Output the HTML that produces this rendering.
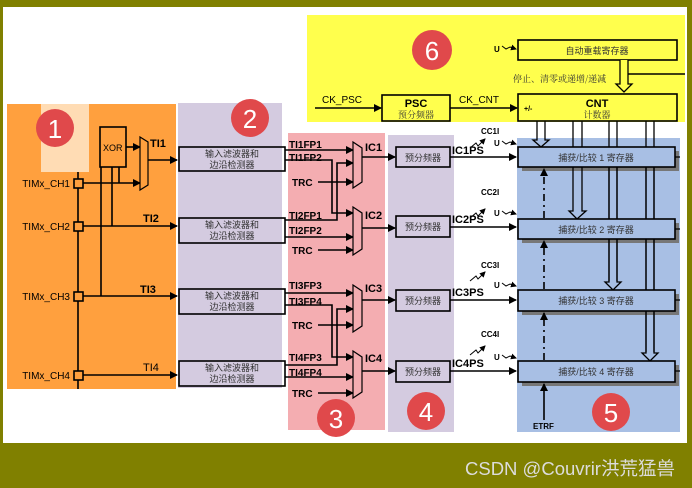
<!DOCTYPE html>
<html><head><meta charset="utf-8"><style>
html,body{margin:0;padding:0;background:#808000;}
svg{display:block}
text{font-family:"Liberation Sans","Noto Sans CJK SC",sans-serif;}
.cj{font-family:"Noto Serif CJK SC","Noto Sans CJK SC",serif;font-size:9px;fill:#333}
.b{font-weight:bold}
</style></head><body>
<svg width="692" height="488" viewBox="0 0 692 488" xmlns="http://www.w3.org/2000/svg">
<defs>
<marker id="a" markerWidth="8" markerHeight="8" refX="7" refY="4" orient="auto" markerUnits="userSpaceOnUse"><path d="M0,0L8,4L0,8z" fill="#000"/></marker>
<marker id="s" markerWidth="6" markerHeight="6" refX="5" refY="3" orient="auto" markerUnits="userSpaceOnUse"><path d="M0,0L6,3L0,6z" fill="#000"/></marker>
</defs>
<rect x="0" y="0" width="692" height="488" fill="#808000"/>
<rect x="3" y="7" width="684" height="436" fill="#fff"/>
<!-- regions -->
<rect x="307" y="15" width="378" height="107" fill="#ffff4d"/>
<rect x="7" y="104" width="169" height="285" fill="#ffa03e"/>
<rect x="41" y="104" width="48" height="68" fill="#ffdcb4"/>
<rect x="178" y="103" width="104" height="285" fill="#d4cbe0"/>
<rect x="288" y="133" width="97" height="297" fill="#f4adb1"/>
<rect x="388" y="135" width="66" height="297" fill="#d4cbe0"/>
<rect x="517" y="138" width="163" height="294" fill="#a8bfe4"/>

<g stroke="#000" fill="none" stroke-width="1.6">
<line x1="78" y1="172" x2="78" y2="389"/>
<rect x="100" y="127" width="26" height="40" fill="#ffa03e"/>
<line x1="101" y1="167" x2="101" y2="296"/>
<line x1="112" y1="167" x2="112" y2="226"/>
<line x1="119" y1="167" x2="119" y2="183"/>
<line x1="83" y1="183" x2="140" y2="183" marker-end="url(#a)"/>
<line x1="126" y1="147" x2="140" y2="147" marker-end="url(#a)"/>
<path d="M140,137L148,142L148,185L140,190Z" fill="#ffa03e" stroke-width="1.2"/>
<line x1="148" y1="160" x2="177" y2="160" marker-end="url(#a)"/>
<line x1="83" y1="226" x2="177" y2="226" marker-end="url(#a)"/>
<line x1="83" y1="296" x2="177" y2="296" marker-end="url(#a)"/>
<line x1="83" y1="375" x2="177" y2="375" marker-end="url(#a)"/>
<rect x="74" y="179" width="9" height="9" fill="#ffa03e"/>
<rect x="74" y="222" width="9" height="9" fill="#ffa03e"/>
<rect x="74" y="292" width="9" height="9" fill="#ffa03e"/>
<rect x="74" y="371" width="9" height="9" fill="#ffa03e"/>
<rect x="179" y="147" width="106" height="24"/>
<rect x="179" y="218" width="106" height="25"/>
<rect x="179" y="289" width="106" height="25"/>
<rect x="179" y="361" width="106" height="25"/>
<line x1="285" y1="150" x2="353" y2="150" marker-end="url(#a)"/>
<polyline points="285,160 332,160 332,213 353,213" marker-end="url(#a)"/>
<polyline points="285,220 337,220 337,163 353,163" marker-end="url(#a)"/>
<line x1="285" y1="237" x2="353" y2="237" marker-end="url(#a)"/>
<line x1="318" y1="182" x2="353" y2="182" marker-end="url(#a)"/>
<line x1="318" y1="250" x2="353" y2="250" marker-end="url(#a)"/>
<line x1="285" y1="293" x2="353" y2="293" marker-end="url(#a)"/>
<polyline points="285,305 332,305 332,357 353,357" marker-end="url(#a)"/>
<polyline points="285,365 337,365 337,309 353,309" marker-end="url(#a)"/>
<line x1="285" y1="377" x2="353" y2="377" marker-end="url(#a)"/>
<line x1="318" y1="325" x2="353" y2="325" marker-end="url(#a)"/>
<line x1="318" y1="393" x2="353" y2="393" marker-end="url(#a)"/>
<g stroke-width="1.2" fill="#f4adb1">
<path d="M353,142L362,148L362,182L353,188Z"/>
<path d="M353,207L362,213L362,249L353,255Z"/>
<path d="M353,285L362,291L362,326L353,332Z"/>
<path d="M353,351L362,357L362,392L353,398Z"/>
</g>
<line x1="362" y1="157" x2="395" y2="157" marker-end="url(#a)"/>
<line x1="362" y1="228" x2="395" y2="228" marker-end="url(#a)"/>
<line x1="362" y1="300" x2="395" y2="300" marker-end="url(#a)"/>
<line x1="362" y1="371" x2="395" y2="371" marker-end="url(#a)"/>
<rect x="396" y="147" width="54" height="20"/>
<rect x="396" y="216" width="54" height="21"/>
<rect x="396" y="290" width="54" height="21"/>
<rect x="396" y="361" width="54" height="21"/>
<line x1="450" y1="157" x2="516" y2="157" marker-end="url(#a)"/>
<line x1="450" y1="227" x2="516" y2="227" marker-end="url(#a)"/>
<line x1="450" y1="300" x2="516" y2="300" marker-end="url(#a)"/>
<line x1="450" y1="371" x2="516" y2="371" marker-end="url(#a)"/>
<line x1="315" y1="108" x2="381" y2="108" marker-end="url(#a)"/>
<rect x="382" y="95" width="68" height="26" fill="#ffff4d"/>
<line x1="450" y1="108" x2="517" y2="108" marker-end="url(#a)"/>
<rect x="518" y="94" width="159" height="27" fill="#ffff4d"/>
<rect x="518" y="40" width="159" height="20" fill="#ffff4d"/>
<line x1="628" y1="74" x2="685" y2="74"/>
</g>
<g stroke="#000" stroke-width="1.3" fill="none">
<path d="M620,60L620,84L616,84L624,92L632,84L628,84L628,60" fill="#ffff4d"/>
<path d="M537,121L537,140L533,140L541,147L549,140L545,140L545,121"/>
</g>
<g fill="#777">
<rect x="522" y="151" width="157" height="20"/><rect x="522" y="223" width="157" height="20"/>
<rect x="522" y="294" width="157" height="21"/><rect x="522" y="365" width="157" height="21"/>
</g>
<g stroke="#000" stroke-width="1.3" fill="none">
<path d="M573,121V211H569L577,219L586,211H582V121" />
<path d="M609,121V282H605L613,290L621,282H617V121"/>
<path d="M646,121V353H642L650,361L658,353H654V121"/>
</g>
<g stroke="#000" stroke-width="1.6" fill="#a8bfe4">
<rect x="518" y="147" width="157" height="20"/>
<rect x="518" y="219" width="157" height="20"/>
<rect x="518" y="290" width="157" height="21"/>
<rect x="518" y="361" width="157" height="21"/>
</g>
<g stroke="#000" stroke-width="1.3" fill="none">
<line x1="609" y1="167" x2="609" y2="219"/><line x1="617" y1="167" x2="617" y2="219"/>
<line x1="609" y1="239" x2="609" y2="281"/><line x1="617" y1="239" x2="617" y2="281"/>
<line x1="646" y1="167" x2="646" y2="219"/><line x1="654" y1="167" x2="654" y2="219"/>
<line x1="646" y1="239" x2="646" y2="290"/><line x1="654" y1="239" x2="654" y2="290"/>
<line x1="646" y1="311" x2="646" y2="352"/><line x1="654" y1="311" x2="654" y2="352"/>
<line x1="675" y1="157" x2="680" y2="157"/><line x1="675" y1="229" x2="680" y2="229"/>
<line x1="675" y1="300" x2="680" y2="300"/><line x1="675" y1="371" x2="680" y2="371"/>
</g>
<g stroke="#000" stroke-width="1.6" stroke-dasharray="7,4,2,4">
<line x1="544" y1="218" x2="544" y2="169" marker-end="url(#a)"/>
<line x1="544" y1="289" x2="544" y2="241" marker-end="url(#a)"/>
<line x1="544" y1="360" x2="544" y2="313" marker-end="url(#a)"/>
</g>
<line x1="544" y1="420" x2="544" y2="384" stroke="#000" stroke-width="1.6" marker-end="url(#a)"/>
<g stroke="#000" stroke-width="1" fill="none">
<path d="M502,46l4,3l4,-2l6,2" marker-end="url(#s)"/>
<path d="M502,141l4,3l4,-2l6,2" marker-end="url(#s)"/>
<path d="M502,211l4,3l4,-2l6,2" marker-end="url(#s)"/>
<path d="M502,283l4,3l4,-2l6,2" marker-end="url(#s)"/>
<path d="M502,355l4,3l4,-2l6,2" marker-end="url(#s)"/>
<path d="M470,148l6,-5l2,3l7,-7" marker-end="url(#s)"/>
<path d="M470,218l6,-5l2,3l7,-7" marker-end="url(#s)"/>
<path d="M470,281l6,-5l2,3l7,-7" marker-end="url(#s)"/>
<path d="M470,355l6,-5l2,3l7,-7" marker-end="url(#s)"/>
</g>
<g fill="#e0494b">
<circle cx="55" cy="128" r="19"/><circle cx="250" cy="118" r="19"/><circle cx="432" cy="50" r="20"/>
<circle cx="336" cy="418" r="19"/><circle cx="426" cy="411" r="19"/><circle cx="611" cy="412" r="19"/>
</g>
<g fill="#fff" font-size="26" text-anchor="middle">
<text x="55" y="138">1</text><text x="250" y="128">2</text><text x="432" y="60">6</text>
<text x="336" y="428">3</text><text x="426" y="421">4</text><text x="611" y="422">5</text>
</g>
<g font-size="10" fill="#000" text-anchor="end">
<text x="70" y="187">TIMx_CH1</text><text x="70" y="230">TIMx_CH2</text>
<text x="70" y="300">TIMx_CH3</text><text x="70" y="379">TIMx_CH4</text>
</g>
<text x="103" y="151" font-size="9">XOR</text>
<g font-size="11" class="b">
<text x="150" y="147">TI1</text><text x="143" y="222">TI2</text><text x="140" y="293">TI3</text>
</g>
<text x="143" y="371" font-size="11">TI4</text>
<g class="cj" text-anchor="middle">
<text x="232" y="157">输入滤波器和</text><text x="232" y="168">边沿检测器</text>
<text x="232" y="228">输入滤波器和</text><text x="232" y="239">边沿检测器</text>
<text x="232" y="299">输入滤波器和</text><text x="232" y="310">边沿检测器</text>
<text x="232" y="371">输入滤波器和</text><text x="232" y="382">边沿检测器</text>
<text x="423" y="161">预分频器</text><text x="423" y="230">预分频器</text>
<text x="423" y="304">预分频器</text><text x="423" y="375">预分频器</text>
<text x="596" y="161">捕获/比较 1 寄存器</text><text x="596" y="233">捕获/比较 2 寄存器</text>
<text x="596" y="304">捕获/比较 3 寄存器</text><text x="596" y="375">捕获/比较 4 寄存器</text>
<text x="597" y="54">自动重载寄存器</text>
</g>
<g font-size="10" class="b" fill="#000">
<text x="289" y="148">TI1FP1</text><text x="289" y="161">TI1FP2</text><text x="292" y="186">TRC</text>
<text x="289" y="219">TI2FP1</text><text x="289" y="234">TI2FP2</text><text x="292" y="254">TRC</text>
<text x="289" y="289">TI3FP3</text><text x="289" y="305">TI3FP4</text><text x="292" y="329">TRC</text>
<text x="289" y="361">TI4FP3</text><text x="289" y="376">TI4FP4</text><text x="292" y="397">TRC</text>
</g>
<g font-size="11" class="b">
<text x="365" y="151">IC1</text><text x="365" y="219">IC2</text><text x="365" y="292">IC3</text><text x="365" y="362">IC4</text>
<text x="452" y="154">IC1PS</text><text x="452" y="223">IC2PS</text><text x="452" y="296">IC3PS</text><text x="452" y="367">IC4PS</text>
</g>
<g font-size="8" class="b">
<text x="481" y="134">CC1I</text><text x="481" y="195">CC2I</text><text x="481" y="268">CC3I</text><text x="481" y="337">CC4I</text>
<text x="494" y="146">U</text><text x="494" y="216">U</text><text x="494" y="288">U</text><text x="494" y="360">U</text>
<text x="494" y="52">U</text>
<text x="533" y="429">ETRF</text>
</g>
<text x="322" y="103" font-size="10">CK_PSC</text>
<text x="459" y="103" font-size="10">CK_CNT</text>
<text x="416" y="107" font-size="11" class="b" text-anchor="middle">PSC</text>
<text x="416" y="118" class="cj" text-anchor="middle">预分频器</text>
<text x="597" y="107" font-size="11" class="b" text-anchor="middle">CNT</text>
<text x="597" y="118" class="cj" text-anchor="middle">计数器</text>
<text x="524" y="111" font-size="7" class="b">+/-</text>
<text x="513" y="82" class="cj">停止、清零或递增/递减</text>
<text x="465" y="475" font-size="18.5" fill="#dcdcdc">CSDN @Couvrir洪荒猛兽</text>
</svg>
</body></html>
